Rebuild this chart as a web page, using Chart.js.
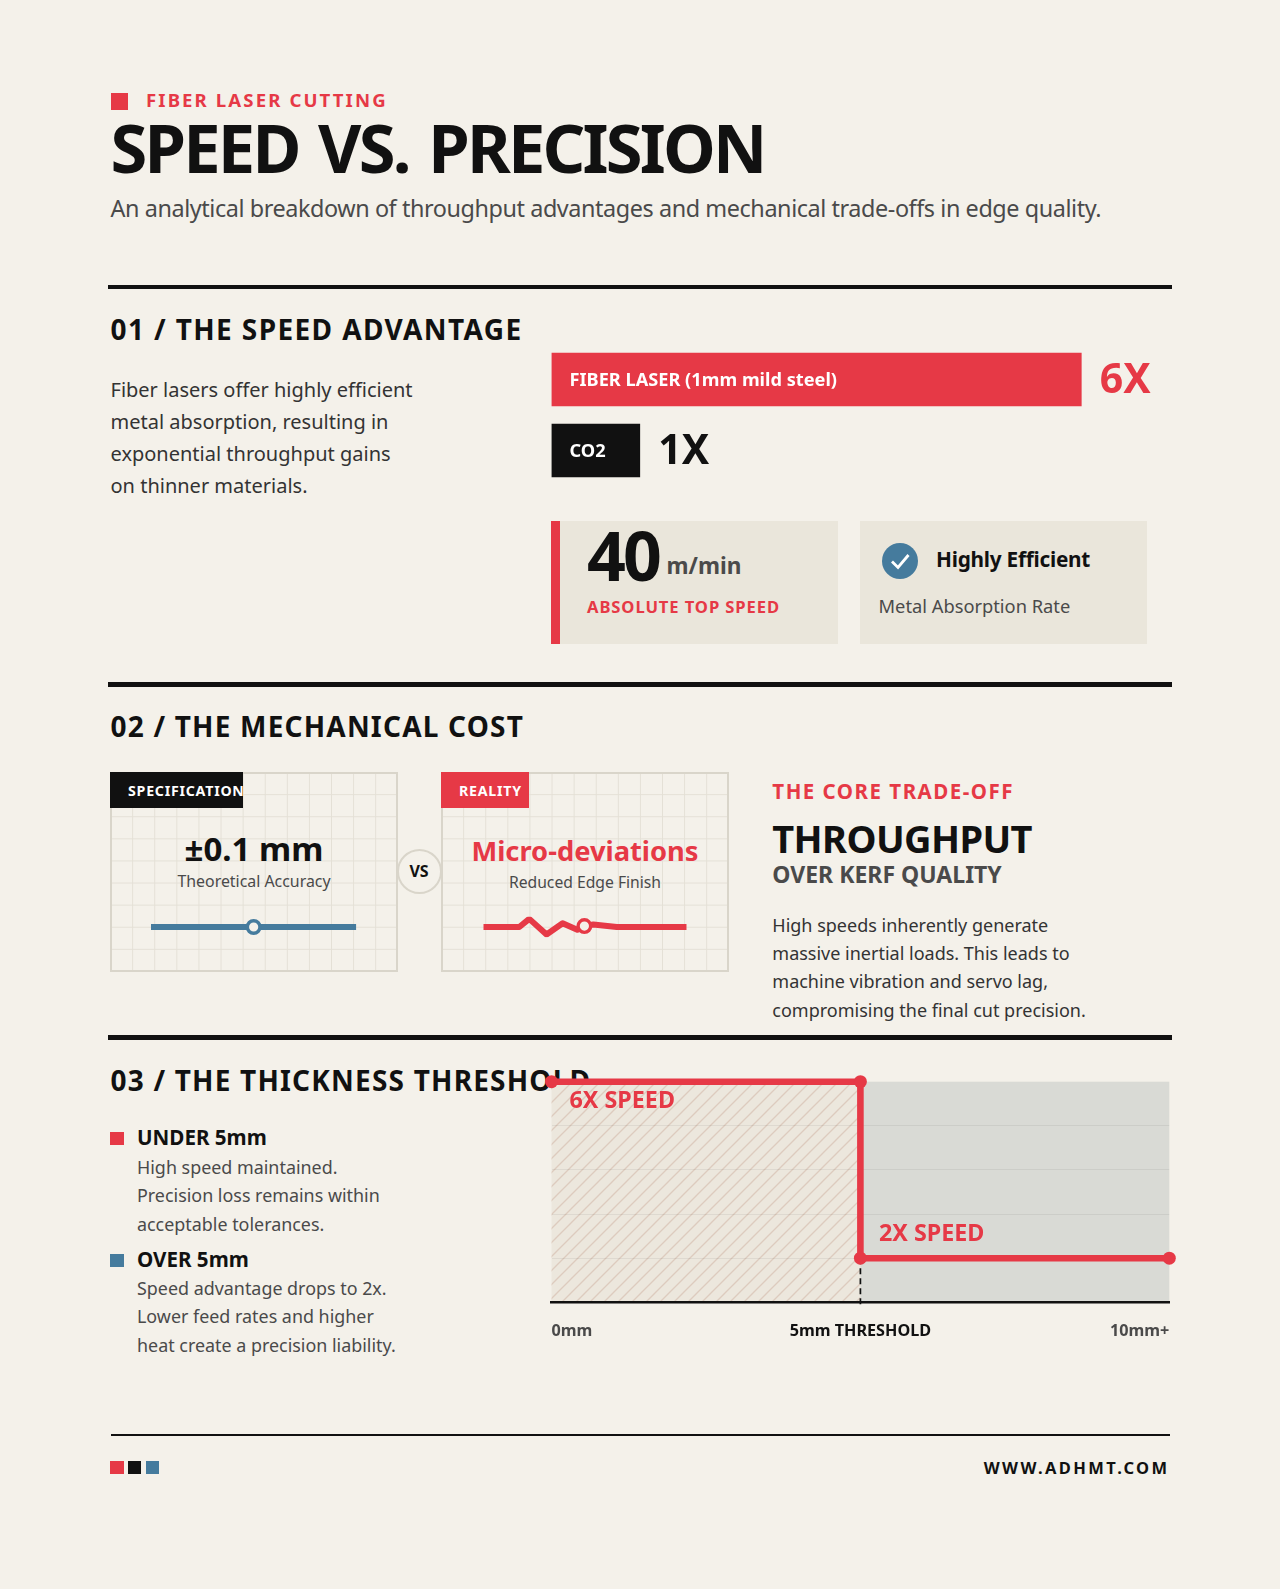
<!DOCTYPE html>
<html>
<head>
<meta charset="utf-8">
<title>Speed vs. Precision</title>
<script src="https://cdn.jsdelivr.net/npm/chart.js@4/dist/chart.umd.min.js"></script>
<style>
  html, body { margin: 0; padding: 0; }
  body { position: relative; width: 1280px; height: 1589px; overflow: hidden; background: #f4f1ea; font-family: "Noto Sans", sans-serif; color: #111; }
  /* --b is the text baseline in px */
  .t { position: absolute; line-height: 1; top: calc(var(--b) * 1px - .888em); white-space: nowrap; }
  .b { font-weight: 700; }
  .g { color: #4a4a4a; }
  .d { color: #333; }
  .r { color: #e63946; }
  .box { position: absolute; }
  .h2 { font-size: 28px; font-weight: 700; letter-spacing: 1.2px; left: 110.5px; }
  .card { position: absolute; box-sizing: border-box; top: 772px; width: 288px; height: 200px; border: 2px solid #d9d5ca;
    background-image:
      linear-gradient(to right, transparent 20px, #e4e0d6 20px, #e4e0d6 21.5px, transparent 21.5px),
      linear-gradient(to bottom, transparent 20px, #e4e0d6 20px, #e4e0d6 21.5px, transparent 21.5px);
    background-size: 22.1px 22.1px; }
  .tag { position: absolute; top: 772px; height: 36px; overflow: hidden; color: #fff; font-weight: 700; font-size: 14.2px; letter-spacing: .75px; line-height: 37px; box-sizing: border-box; padding-left: 18px; }
  canvas { position: absolute; }
</style>
</head>
<body>

<!-- header -->
<div class="box" style="left:110.5px;top:92.5px;width:17.5px;height:17.5px;background:#e63946"></div>
<div class="t b r" style="--b:107.3;left:146px;font-size:18.6px;letter-spacing:2.1px">FIBER LASER CUTTING</div>
<div class="t b" style="--b:174.2;left:110.5px;font-size:66.8px;letter-spacing:-2.8px;word-spacing:5px">SPEED VS. PRECISION</div>
<div class="t g" style="--b:217.7;left:110.5px;font-size:23.4px;letter-spacing:-.42px">An analytical breakdown of throughput advantages and mechanical trade-offs in edge quality.</div>

<div class="box" style="left:108px;top:284.7px;width:1064px;height:4.5px;background:#111"></div>

<!-- section 1 -->
<div class="t h2" style="--b:339.5;letter-spacing:1.4px">01 / THE SPEED ADVANTAGE</div>
<div class="t d" style="--b:397.5;left:110.5px;font-size:20px">Fiber lasers offer highly efficient</div>
<div class="t d" style="--b:429.5;left:110.5px;font-size:20px">metal absorption, resulting in</div>
<div class="t d" style="--b:461.5;left:110.5px;font-size:20px">exponential throughput gains</div>
<div class="t d" style="--b:493.5;left:110.5px;font-size:20px">on thinner materials.</div>

<canvas id="speedBars" style="left:551px;top:344px"></canvas>

<div class="box" style="left:551px;top:521px;width:287px;height:123px;background:#eae6db"></div>
<div class="box" style="left:551px;top:521px;width:9px;height:123px;background:#e63946"></div>
<div class="t b" style="--b:581.7;left:587px;font-size:68px;letter-spacing:-3px">40</div>
<div class="t b g" style="--b:574.8;left:666.5px;font-size:22.6px">m/min</div>
<div class="t b r" style="--b:613.3;left:587px;font-size:16.6px;letter-spacing:.9px">ABSOLUTE TOP SPEED</div>

<div class="box" style="left:860px;top:521px;width:287px;height:123px;background:#eae6db"></div>
<svg class="box" style="left:882px;top:542.7px" width="36" height="36" viewBox="0 0 36 36">
  <circle cx="18" cy="18" r="18" fill="#457b9d"/>
  <polyline points="10,18.5 16,24.5 26.5,12" fill="none" stroke="#fff" stroke-width="2.8"/>
</svg>
<div class="t b" style="--b:567.5;left:936px;font-size:20.8px;letter-spacing:-.25px">Highly Efficient</div>
<div class="t g" style="--b:613.3;left:878.5px;font-size:18.3px">Metal Absorption Rate</div>

<div class="box" style="left:108px;top:682px;width:1064px;height:4.5px;background:#111"></div>

<!-- section 2 -->
<div class="t h2" style="--b:737">02 / THE MECHANICAL COST</div>

<div class="card" style="left:110px"></div>
<div class="card" style="left:441px"></div>
<div class="tag" style="left:110px;width:133px;background:#111">SPECIFICATION</div>
<div class="tag" style="left:441px;width:88px;background:#e63946">REALITY</div>

<div class="t b" style="--b:861;left:110px;width:288px;text-align:center;font-size:33px">±0.1 mm</div>
<div class="t g" style="--b:888.5;left:110px;width:288px;text-align:center;font-size:15.9px">Theoretical Accuracy</div>
<div class="t b r" style="--b:861;left:441px;width:288px;text-align:center;font-size:27.3px">Micro-deviations</div>
<div class="t g" style="--b:888.5;left:441px;width:288px;text-align:center;font-size:15.7px">Reduced Edge Finish</div>

<canvas id="specLine" style="left:141px;top:907px"></canvas>
<canvas id="realLine" style="left:473px;top:907px"></canvas>

<div class="box" style="left:396.5px;top:849px;width:45px;height:45px;box-sizing:border-box;border:2px solid #d9d5ca;border-radius:50%;background:#f4f1ea"></div>
<div class="t b" style="--b:877.5;left:396.5px;width:45px;text-align:center;font-size:16px">VS</div>

<div class="t b r" style="--b:799.6;left:772.3px;font-size:20.5px;letter-spacing:1.5px">THE CORE TRADE-OFF</div>
<div class="t b" style="--b:853;left:772.3px;font-size:38px;letter-spacing:-.6px">THROUGHPUT</div>
<div class="t b g" style="--b:883.8;left:772.3px;font-size:23px">OVER KERF QUALITY</div>
<div class="t d" style="--b:931.5;left:772.3px;font-size:18px">High speeds inherently generate</div>
<div class="t d" style="--b:959.9;left:772.3px;font-size:18px">massive inertial loads. This leads to</div>
<div class="t d" style="--b:988.3;left:772.3px;font-size:18px">machine vibration and servo lag,</div>
<div class="t d" style="--b:1016.7;left:772.3px;font-size:18px">compromising the final cut precision.</div>

<div class="box" style="left:108px;top:1035px;width:1064px;height:4.5px;background:#111"></div>

<!-- section 3 -->
<div class="t h2" style="--b:1090.5">03 / THE THICKNESS THRESHOLD</div>

<div class="box" style="left:110.3px;top:1132.3px;width:13.3px;height:13px;background:#e63946"></div>
<div class="t b" style="--b:1145.5;left:137px;font-size:20.6px">UNDER 5mm</div>
<div class="t g" style="--b:1174.5;left:137px;font-size:17.9px">High speed maintained.</div>
<div class="t g" style="--b:1203;left:137px;font-size:17.9px">Precision loss remains within</div>
<div class="t g" style="--b:1231.6;left:137px;font-size:17.9px">acceptable tolerances.</div>

<div class="box" style="left:110.3px;top:1253.5px;width:13.3px;height:13.3px;background:#457b9d"></div>
<div class="t b" style="--b:1267;left:137px;font-size:20.6px">OVER 5mm</div>
<div class="t g" style="--b:1296;left:137px;font-size:17.9px">Speed advantage drops to 2x.</div>
<div class="t g" style="--b:1324.3;left:137px;font-size:17.9px">Lower feed rates and higher</div>
<div class="t g" style="--b:1352.8;left:137px;font-size:17.9px">heat create a precision liability.</div>

<canvas id="thresholdChart" style="left:500px;top:1070px"></canvas>

<!-- footer -->
<div class="box" style="left:110.5px;top:1433.5px;width:1059px;height:2.3px;background:#111"></div>
<div class="box" style="left:110.3px;top:1461px;width:13.3px;height:13.3px;background:#e63946"></div>
<div class="box" style="left:128px;top:1461px;width:13.3px;height:13.3px;background:#111"></div>
<div class="box" style="left:145.7px;top:1461px;width:13.3px;height:13.3px;background:#457b9d"></div>
<div class="t b" style="--b:1474.6;right:110.5px;font-size:16.5px;letter-spacing:2.4px">WWW.ADHMT.COM</div>

<script>
const RED = '#e63946';
const BLUE = '#457b9d';
const INK = '#111111';
const FONT = '"Noto Sans", sans-serif';

// section 1 bars
const barCategories = ['FIBER LASER (1mm mild steel)', 'CO2'];
const barValues = [6, 1];
const barValueLabels = ['6X', '1X'];

// section 2 small lines, x in percent of the trace, y in deviation
const specX = [0, 100];
const specY = [0, 0];
const specMarker = [50, 0];
const realX = [0, 17.7, 22.6, 31.1, 39, 46.2, 49.7, 54.1, 65.6, 100];
const realY = [0, 0, 8.7, -8, 4, -3, 1, 2.7, 0, 0];
const realMarker = [49.7, 1];

// section 3 step line, thickness in mm and speed multiple
const stepX = [0, 5, 5, 10];
const stepY = [6, 6, 2, 2];
const thresholdX = [5, 5];
const thresholdY = [2, 0.87];
const xTicks = [0, 5, 10];
const xTickLabels = ['0mm', '5mm THRESHOLD', '10mm+'];
const stepLabels = ['6X SPEED', '2X SPEED'];

Chart.defaults.animation = false;
Chart.defaults.responsive = false;
Chart.defaults.plugins.legend.display = false;
Chart.defaults.plugins.tooltip.enabled = false;

function sizeCanvas(id, w, h) {
  const c = document.getElementById(id);
  c.width = w;
  c.height = h;
  c.style.width = w + 'px';
  c.style.height = h + 'px';
  return c;
}

// text inside and next to the bars
const barTextPlugin = {
  id: 'barText',
  afterDatasetsDraw(chart) {
    const ctx = chart.ctx;
    const meta = chart.getDatasetMeta(0);
    ctx.save();
    ctx.textBaseline = 'alphabetic';
    meta.data.forEach((bar, i) => {
      const top = bar.y - bar.height / 2;
      ctx.font = '700 18.2px ' + FONT;
      ctx.fillStyle = '#ffffff';
      ctx.fillText(barCategories[i], bar.base + 18, top + 33);
      ctx.font = '700 41px ' + FONT;
      ctx.fillStyle = i === 0 ? RED : INK;
      ctx.fillText(barValueLabels[i], bar.x + 18.5, top + 40);
    });
    ctx.restore();
  }
};

new Chart(sizeCanvas('speedBars', 620, 142), {
  type: 'bar',
  data: {
    labels: barCategories,
    datasets: [{
      data: barValues,
      backgroundColor: [RED, INK],
      barThickness: 53
    }]
  },
  options: {
    indexAxis: 'y',
    layout: { padding: { left: 0.5, right: 1.4 } },
    scales: {
      x: { display: false, min: 0, max: 7 },
      y: { display: false }
    }
  },
  plugins: [barTextPlugin]
});

function traceChart(id, xs, ys, marker, color) {
  return new Chart(sizeCanvas(id, 225, 40), {
    type: 'line',
    data: {
      datasets: [
        {
          data: [{ x: marker[0], y: marker[1] }],
          showLine: false,
          pointRadius: 6.3,
          pointBorderWidth: 3.4,
          pointBorderColor: color,
          pointBackgroundColor: '#f4f1ea',
          order: 0
        },
        {
          data: xs.map((x, i) => ({ x: x, y: ys[i] })),
          borderColor: color,
          borderWidth: 6,
          borderCapStyle: 'butt',
          borderJoinStyle: 'round',
          pointRadius: 0,
          tension: 0,
          order: 1
        }
      ]
    },
    options: {
      layout: { padding: { left: id === 'specLine' ? 10 : 10.3, right: id === 'specLine' ? 9 : 11.3 } },
      scales: {
        x: { type: 'linear', display: false, min: 0, max: 100 },
        y: { display: false, min: -11, max: 11 }
      }
    }
  });
}
traceChart('specLine', specX, specY, specMarker, BLUE);
traceChart('realLine', realX, realY, realMarker, RED);

function hatchPattern(ctx) {
  const s = 14;
  const tile = document.createElement('canvas');
  tile.width = s;
  tile.height = s;
  const p = tile.getContext('2d');
  p.fillStyle = '#ece7dd';
  p.fillRect(0, 0, s, s);
  p.strokeStyle = 'rgba(205,175,160,0.5)';
  p.lineWidth = 1.3;
  p.beginPath();
  p.moveTo(-2, s + 2); p.lineTo(s + 2, -2);
  p.moveTo(-2, 2); p.lineTo(2, -2);
  p.moveTo(s - 2, s + 2); p.lineTo(s + 2, s - 2);
  p.stroke();
  return ctx.createPattern(tile, 'repeat');
}

// hatched and grey zones either side of the threshold, behind the grid
const zonesPlugin = {
  id: 'zones',
  beforeDraw(chart) {
    const { ctx, chartArea: a, scales: { x } } = chart;
    const mid = x.getPixelForValue(thresholdX[0]);
    ctx.save();
    ctx.fillStyle = hatchPattern(ctx);
    ctx.fillRect(a.left, a.top, mid - a.left, a.height);
    ctx.fillStyle = '#d9dad5';
    ctx.fillRect(mid, a.top, a.right - mid, a.height);
    ctx.restore();
  },
  afterDatasetsDraw(chart) {
    const { ctx, scales: { x, y } } = chart;
    ctx.save();
    ctx.font = '700 23.3px ' + FONT;
    ctx.fillStyle = RED;
    ctx.textBaseline = 'alphabetic';
    ctx.fillText(stepLabels[0], x.getPixelForValue(stepX[0]) + 18, y.getPixelForValue(stepY[0]) + 26);
    ctx.fillText(stepLabels[1], x.getPixelForValue(stepX[2]) + 18.5, y.getPixelForValue(stepY[2]) - 17);
    ctx.restore();
  }
};

new Chart(sizeCanvas('thresholdChart', 720, 290), {
  type: 'line',
  data: {
    datasets: [
      {
        data: stepX.map((x, i) => ({ x: x, y: stepY[i] })),
        borderColor: RED,
        backgroundColor: RED,
        borderWidth: 6.6,
        borderCapStyle: 'butt',
        borderJoinStyle: 'miter',
        pointRadius: 6.5,
        pointBorderWidth: 0,
        tension: 0,
        clip: false,
        order: 0
      },
      {
        data: thresholdX.map((x, i) => ({ x: x, y: thresholdY[i] })),
        borderColor: INK,
        borderWidth: 1.7,
        borderDash: [6, 4],
        pointRadius: 0,
        clip: false,
        order: 1
      }
    ]
  },
  options: {
    layout: { padding: { left: 51.5, right: 50.7, top: 11.7 } },
    scales: {
      x: {
        type: 'linear',
        min: 0,
        max: 10,
        afterBuildTicks(scale) { scale.ticks = xTicks.map(v => ({ value: v })); },
        afterFit(scale) { scale.height = 57.7; },
        grid: { display: false, drawTicks: false },
        border: { color: INK, width: 2.4 },
        ticks: {
          align: 'inner',
          padding: 19,
          maxRotation: 0,
          autoSkip: false,
          callback: (v) => xTickLabels[xTicks.indexOf(v)],
          color: (c) => c.index === 1 ? INK : '#4a4a4a',
          font: { family: FONT, weight: '700', size: 16.2 }
        }
      },
      y: {
        min: 1,
        max: 6,
        afterFit(scale) { scale.width = 0; },
        grid: {
          drawTicks: false,
          lineWidth: 1,
          color: (c) => (c.tick.value === 1 || c.tick.value === 6) ? 'transparent' : 'rgba(0,0,0,0.06)'
        },
        border: { display: false },
        ticks: { display: false, stepSize: 1 }
      }
    }
  },
  plugins: [zonesPlugin]
});
</script>
</body>
</html>
